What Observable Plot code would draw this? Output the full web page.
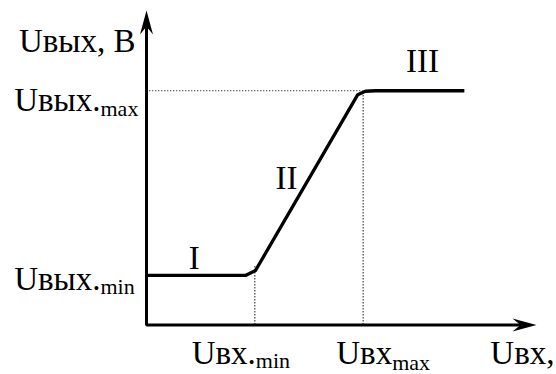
<!DOCTYPE html>
<html>
<head>
<meta charset="utf-8">
<script src="https://cdn.jsdelivr.net/npm/d3@7"></script>
<script src="https://cdn.jsdelivr.net/npm/@observablehq/plot@0.6"></script>
<style>
  html, body { margin: 0; padding: 0; background: #fff; }
  #chart svg { display: block; }
</style>
</head>
<body>
<div id="chart"></div>
<script>
// Transfer characteristic of a limiting stage, schematic units.
const uInMin = 5, uInMax = 10;          // input thresholds
const uOutMin = 1, uOutMax = 4.73;      // output levels
const axisInEnd = 18, axisOutEnd = 6.35; // arrow tips of the axes

// Characteristic: flat (I), linear (II), saturated (III)
const curveIn  = [0, 4.57, 4.80, 5.03, 9.75, 10.10, 10.57, 14.67];
const curveOut = [1, 1,    1.05, 1.10, 4.65, 4.72,  4.73,  4.73];

// Region names and where they sit
const regionNames = ["I", "II", "III"];
const regionIn  = [2.2, 6.46, 12.74];
const regionOut = [1.14, 2.74, 5.10];

// Guide lines: vertical drops from the thresholds, horizontal from the max level
const dropIn  = [uInMin, uInMax];
const dropTop = [1.18, uOutMax];

// Axis titles and level labels (main text + subscript)
const yTitle = "Uвых, В";
const xTitle = "Uвх,";
const levelMain = ["Uвых.", "Uвых.", "Uвх.", "Uвх"];
const levelSub  = ["max", "min", "min", "max"];

const curve = curveIn.map((v, i) => ({x: v, y: curveOut[i]}));
const regions = regionNames.map((t, i) => ({t, x: regionIn[i], y: regionOut[i]}));
const drops = dropIn.map((v, i) => ({x: v, y2: dropTop[i]}));

// Filled stealth arrowhead, tip at the origin, pointing up
const stealth = {
  draw(ctx) {
    ctx.moveTo(0, 0);
    ctx.lineTo(6.5, 24);
    ctx.lineTo(0, 16);
    ctx.lineTo(-6.5, 24);
    ctx.closePath();
  }
};

const font = "Liberation Serif";
const big = 33, small = 22;

const label = (text, xv, yv, opts) =>
  Plot.text([{t: text, x: xv, y: yv}], {
    x: "x", y: "y", text: "t", lineAnchor: "bottom",
    fontSize: big, fontFamily: font, ...opts
  });

const chart = Plot.plot({
  width: 556,
  height: 374,
  margin: 0,
  style: {background: "#fff", color: "#000"},
  x: {domain: [0, axisInEnd], range: [146, 536], axis: null},
  y: {domain: [0, axisOutEnd], range: [324.5, 10], axis: null},
  marks: [
    // dotted guides
    Plot.ruleY([uOutMax], {x1: 0, x2: uInMax, stroke: "#444", strokeWidth: 1.2, strokeDasharray: "1.4 1.6"}),
    Plot.ruleX(drops, {x: "x", y1: 0, y2: "y2", stroke: "#444", strokeWidth: 1.2, strokeDasharray: "1.4 1.6"}),

    // characteristic
    Plot.line(curve, {x: "x", y: "y", stroke: "#000", strokeWidth: 3.3, strokeLinejoin: "round", strokeLinecap: "butt"}),

    // axes with arrowheads
    Plot.line([{x: 0, y: axisOutEnd - 0.2}, {x: 0, y: 0}, {x: axisInEnd - 0.5, y: 0}],
      {x: "x", y: "y", stroke: "#000", strokeWidth: 3, strokeLinejoin: "miter"}),
    Plot.dot([{x: 0, y: axisOutEnd}], {x: "x", y: "y", symbol: stealth, r: 5, fill: "#000", stroke: "none"}),
    Plot.dot([{x: axisInEnd, y: 0}], {x: "x", y: "y", symbol: stealth, r: 5, fill: "#000", stroke: "none", rotate: 90}),

    // region names
    Plot.text(regions, {x: "x", y: "y", text: "t", fontSize: big, fontFamily: font, lineAnchor: "bottom", textAnchor: "middle"}),

    // axis titles
    label(yTitle, 0, axisOutEnd, {textAnchor: "end", dx: -11, dy: 41}),
    label(xTitle, axisInEnd, 0, {textAnchor: "end", dx: 18, dy: 38.5}),

    // output levels
    label(levelMain[0], 0, uOutMax, {textAnchor: "end", dx: -46, dy: 20.5}),
    label(levelSub[0], 0, uOutMax, {textAnchor: "start", dx: -46, dy: 25, fontSize: small}),
    label(levelMain[1], 0, uOutMin, {textAnchor: "end", dx: -46, dy: 15}),
    label(levelSub[1], 0, uOutMin, {textAnchor: "start", dx: -46, dy: 18.5, fontSize: small}),

    // input thresholds
    label(levelMain[2], uInMin, 0, {textAnchor: "end", dx: 1, dy: 38.5}),
    label(levelSub[2], uInMin, 0, {textAnchor: "start", dx: 1, dy: 42.5, fontSize: small}),
    label(levelMain[3], uInMax, 0, {textAnchor: "end", dx: 29, dy: 38.5}),
    label(levelSub[3], uInMax, 0, {textAnchor: "start", dx: 29, dy: 44.5, fontSize: small})
  ]
});

document.getElementById("chart").append(chart);
</script>
</body>
</html>
